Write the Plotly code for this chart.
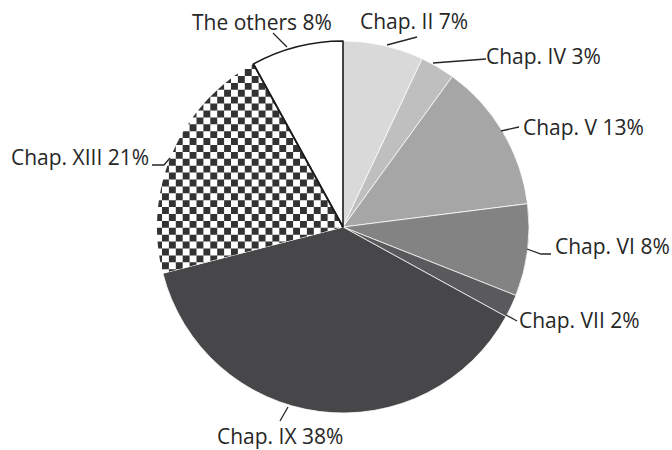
import math
import plotly.graph_objects as go

# ---------------- data ----------------
labels = ["Chap. II", "Chap. IV", "Chap. V", "Chap. VI", "Chap. VII",
          "Chap. IX", "Chap. XIII", "The others"]
values = [7, 3, 13, 8, 2, 38, 21, 8]

# ---------------- style / layout ----------------
slice_colors = ["#d9d9d9", "#bfbfbf", "#a6a6a6", "#838383", "#5a5a5c",
                "#47474a", "#ffffff", "#ffffff"]
line_colors = ["#ffffff"] * 7 + ["#1a1a1a"]
line_widths = [0.75] * 7 + [1.6]
checker_color = "#333333"
text_color = "#262626"

W, H = 672, 450
CX, CY, R = 343, 227, 186          # pie centre / radius in pixels

# text centre of each label (pixels)
label_pos = [(414, 21), (543, 56), (583, 127), (612, 246), (579, 320),
             (280, 436), (80, 157), (262, 22)]
# leader lines (pixel polylines)
leaders = [
    [(387, 45), (417, 37)],
    [(433, 63), (486, 59)],
    [(501, 131), (519, 127)],
    [(527, 249), (541, 254), (551, 254)],
    [(506, 315), (517, 321)],
    [(288, 407), (280, 421)],
    [(152, 165), (164, 165), (170, 158)],
    [(287, 47), (273, 33)],
]
checker_origin = (162.0, 193.3)
checker_size = 6.9
checker_slice = "Chap. XIII"


def to_paper(x, y):
    return x / W, 1 - y / H


def polar_px(theta_deg, r):
    t = math.radians(theta_deg)
    return CX + r * math.sin(t), CY - r * math.cos(t)


total = sum(values)
pcts = [round(v / total * 100) for v in values]

fig = go.Figure()
fig.add_trace(go.Pie(
    labels=labels, values=values, sort=False, direction="clockwise",
    rotation=0, textinfo="none", hoverinfo="label+percent",
    marker=dict(colors=slice_colors,
                line=dict(color=line_colors, width=line_widths)),
    domain=dict(x=[(CX - R) / W, (CX + R) / W],
                y=[1 - (CY + R) / H, 1 - (CY - R) / H]),
    showlegend=False,
))

# ---------- checkerboard fill of the pattern slice ----------
idx = labels.index(checker_slice)
a1 = sum(values[:idx]) / total * 360
a2 = sum(values[:idx + 1]) / total * 360
wedge = [(CX, CY)]
n = 90
for k in range(n + 1):
    wedge.append(polar_px(a1 + (a2 - a1) * k / n, R))


def area(poly):
    s = 0
    for i in range(len(poly)):
        x1, y1 = poly[i]
        x2, y2 = poly[(i + 1) % len(poly)]
        s += x1 * y2 - x2 * y1
    return s / 2


orient = 1 if area(wedge) > 0 else -1


def inside(p, a, b):
    return ((b[0] - a[0]) * (p[1] - a[1]) - (b[1] - a[1]) * (p[0] - a[0])) * orient >= 0


def inter(p, q, a, b):
    x1, y1 = p; x2, y2 = q; x3, y3 = a; x4, y4 = b
    den = (x1 - x2) * (y3 - y4) - (y1 - y2) * (x3 - x4)
    t = ((x1 - x3) * (y3 - y4) - (y1 - y3) * (x3 - x4)) / den
    return (x1 + t * (x2 - x1), y1 + t * (y2 - y1))


def clip(poly, cp):
    out = poly
    for i in range(len(cp)):
        a, b = cp[i], cp[(i + 1) % len(cp)]
        inp = out
        out = []
        if not inp:
            break
        s = inp[-1]
        for e in inp:
            if inside(e, a, b):
                if not inside(s, a, b):
                    out.append(inter(s, e, a, b))
                out.append(e)
            elif inside(s, a, b):
                out.append(inter(s, e, a, b))
            s = e
    return out


xs = [p[0] for p in wedge]
ys = [p[1] for p in wedge]
ox, oy = checker_origin
s = checker_size
i0 = math.floor((min(xs) - ox) / s) - 1
i1 = math.ceil((max(xs) - ox) / s) + 1
j0 = math.floor((min(ys) - oy) / s) - 1
j1 = math.ceil((max(ys) - oy) / s) + 1
parts = []
for i in range(i0, i1):
    for j in range(j0, j1):
        if (i + j) % 2:
            continue
        x0 = ox + i * s
        y0 = oy + j * s
        sq = [(x0, y0), (x0 + s, y0), (x0 + s, y0 + s), (x0, y0 + s)]
        c = clip(sq, wedge)
        if len(c) >= 3:
            pts = [to_paper(*p) for p in c]
            parts.append("M" + "L".join(f"{px:.5f},{py:.5f}" for px, py in pts) + "Z")

shapes = [dict(type="path", path="".join(parts), xref="paper", yref="paper",
               fillcolor=checker_color, line=dict(width=0), layer="above")]

# outline between the pattern slice and the "others" slice
ex, ey = polar_px(a2, R)
p0 = to_paper(CX, CY)
p1 = to_paper(ex, ey)
shapes.append(dict(type="line", xref="paper", yref="paper",
                   x0=p0[0], y0=p0[1], x1=p1[0], y1=p1[1],
                   line=dict(color="#1a1a1a", width=1.6), layer="above"))

for pl in leaders:
    pts = [to_paper(*p) for p in pl]
    path = "M" + "L".join(f"{px:.5f},{py:.5f}" for px, py in pts)
    shapes.append(dict(type="path", path=path, xref="paper", yref="paper",
                       line=dict(color=text_color, width=1.3), layer="above"))

annotations = []
for lab, pc, (lx, ly) in zip(labels, pcts, label_pos):
    px, py = to_paper(lx, ly)
    annotations.append(dict(text=f"{lab} {pc}%", x=px, y=py, xref="paper", yref="paper",
                            xanchor="center", yanchor="middle", showarrow=False,
                            font=dict(family="Open Sans", size=21, color=text_color)))

fig.update_layout(width=W, height=H, margin=dict(l=0, r=0, t=0, b=0),
                  paper_bgcolor="white", plot_bgcolor="white",
                  shapes=shapes, annotations=annotations, showlegend=False)

fig.write_html("out.html", config={"displayModeBar": False},
               post_script="document.body.style.margin='0';document.body.style.overflow='hidden';")
